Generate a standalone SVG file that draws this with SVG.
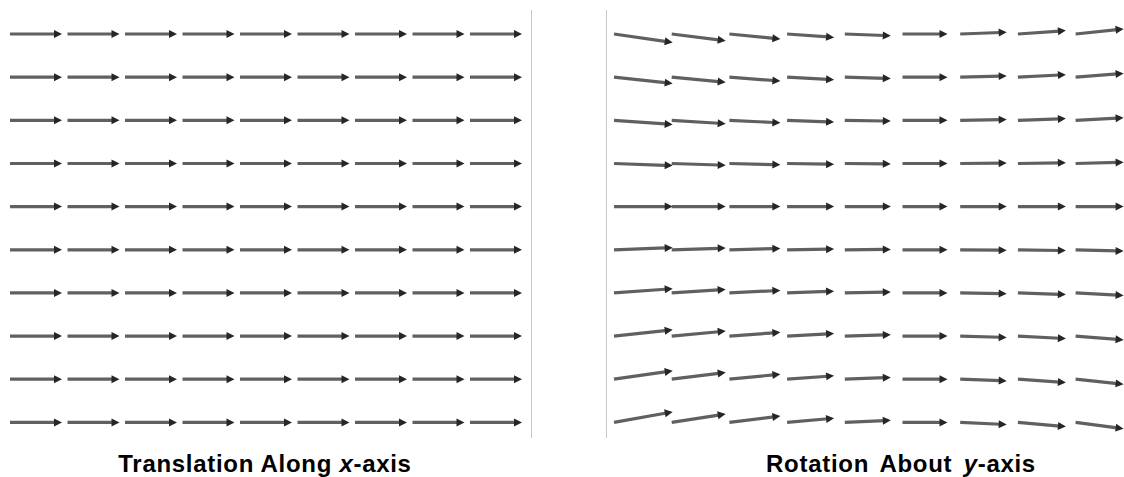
<svg xmlns="http://www.w3.org/2000/svg" xmlns:xlink="http://www.w3.org/1999/xlink" width="1124" height="477" viewBox="0 0 1124 477">
<style>
.a{fill:none;stroke:#606060;stroke-width:3.2;stroke-dasharray:87 100;marker-end:url(#m)}
.d{stroke:#c8c8c8;stroke-width:1}
.t{font-family:"Liberation Sans",Arial,sans-serif;font-weight:bold;font-size:24px;letter-spacing:0.7px;fill:#000;text-anchor:middle}
</style>
<defs>
<marker id="m" markerUnits="userSpaceOnUse" markerWidth="10" markerHeight="10" refX="8" refY="4" orient="auto" overflow="visible">
<path d="M0 0L8 4L0 8z" fill="#262626"/>
</marker>
<path id="h" class="a" d="M0 0h52" pathLength="100"/>
<g id="row">
<use xlink:href="#h" x="10"/><use xlink:href="#h" x="67.5"/><use xlink:href="#h" x="125"/><use xlink:href="#h" x="182.5"/><use xlink:href="#h" x="240"/><use xlink:href="#h" x="297.5"/><use xlink:href="#h" x="355"/><use xlink:href="#h" x="412.5"/><use xlink:href="#h" x="470"/>
</g>
</defs>
<rect width="1124" height="477" fill="#fff"/>
<g id="dividers">
<line class="d" x1="531.5" y1="10" x2="531.5" y2="438"/>
<line class="d" x1="606.5" y1="10" x2="606.5" y2="438"/>
</g>
<g id="left-panel">
<use xlink:href="#row" y="34"/>
<use xlink:href="#row" y="77.2"/>
<use xlink:href="#row" y="120.3"/>
<use xlink:href="#row" y="163.5"/>
<use xlink:href="#row" y="206.6"/>
<use xlink:href="#row" y="249.8"/>
<use xlink:href="#row" y="292.9"/>
<use xlink:href="#row" y="336.1"/>
<use xlink:href="#row" y="379.2"/>
<use xlink:href="#row" y="422.4"/>
</g>
<g id="right-panel">
<path class="a" pathLength="100" d="M614 34l58.7 8.4"/><path class="a" pathLength="100" d="M671.7 34l54 6.7"/><path class="a" pathLength="100" d="M729.4 34l51 5"/><path class="a" pathLength="100" d="M787.1 34l47 3.4"/><path class="a" pathLength="100" d="M844.8 34l46 1.7"/><path class="a" pathLength="100" d="M902.5 34l45 0"/><path class="a" pathLength="100" d="M960.2 34l46.5 -1.7"/><path class="a" pathLength="100" d="M1017.9 34l48 -3.4"/><path class="a" pathLength="100" d="M1075.6 34l48 -5"/>
<path class="a" pathLength="100" d="M614 77.2l58.7 6.3"/><path class="a" pathLength="100" d="M671.7 77.2l54 5"/><path class="a" pathLength="100" d="M729.4 77.2l51 3.8"/><path class="a" pathLength="100" d="M787.1 77.2l47 2.5"/><path class="a" pathLength="100" d="M844.8 77.2l46 1.3"/><path class="a" pathLength="100" d="M902.5 77.2l45 0"/><path class="a" pathLength="100" d="M960.2 77.2l46.5 -1.3"/><path class="a" pathLength="100" d="M1017.9 77.2l48 -2.5"/><path class="a" pathLength="100" d="M1075.6 77.2l48 -3.8"/>
<path class="a" pathLength="100" d="M614 120.3l58.7 4.2"/><path class="a" pathLength="100" d="M671.7 120.3l54 3.4"/><path class="a" pathLength="100" d="M729.4 120.3l51 2.5"/><path class="a" pathLength="100" d="M787.1 120.3l47 1.7"/><path class="a" pathLength="100" d="M844.8 120.3l46 0.8"/><path class="a" pathLength="100" d="M902.5 120.3l45 0"/><path class="a" pathLength="100" d="M960.2 120.3l46.5 -0.8"/><path class="a" pathLength="100" d="M1017.9 120.3l48 -1.7"/><path class="a" pathLength="100" d="M1075.6 120.3l48 -2.5"/>
<path class="a" pathLength="100" d="M614 163.5l58.7 2.1"/><path class="a" pathLength="100" d="M671.7 163.5l54 1.7"/><path class="a" pathLength="100" d="M729.4 163.5l51 1.3"/><path class="a" pathLength="100" d="M787.1 163.5l47 0.8"/><path class="a" pathLength="100" d="M844.8 163.5l46 0.4"/><path class="a" pathLength="100" d="M902.5 163.5l45 0"/><path class="a" pathLength="100" d="M960.2 163.5l46.5 -0.4"/><path class="a" pathLength="100" d="M1017.9 163.5l48 -0.8"/><path class="a" pathLength="100" d="M1075.6 163.5l48 -1.3"/>
<path class="a" pathLength="100" d="M614 206.6l58.7 0"/><path class="a" pathLength="100" d="M671.7 206.6l54 0"/><path class="a" pathLength="100" d="M729.4 206.6l51 0"/><path class="a" pathLength="100" d="M787.1 206.6l47 0"/><path class="a" pathLength="100" d="M844.8 206.6l46 0"/><path class="a" pathLength="100" d="M902.5 206.6l45 0"/><path class="a" pathLength="100" d="M960.2 206.6l46.5 0"/><path class="a" pathLength="100" d="M1017.9 206.6l48 0"/><path class="a" pathLength="100" d="M1075.6 206.6l48 0"/>
<path class="a" pathLength="100" d="M614 249.8l58.7 -2.1"/><path class="a" pathLength="100" d="M671.7 249.8l54 -1.7"/><path class="a" pathLength="100" d="M729.4 249.8l51 -1.3"/><path class="a" pathLength="100" d="M787.1 249.8l47 -0.8"/><path class="a" pathLength="100" d="M844.8 249.8l46 -0.4"/><path class="a" pathLength="100" d="M902.5 249.8l45 0"/><path class="a" pathLength="100" d="M960.2 249.8l46.5 0.4"/><path class="a" pathLength="100" d="M1017.9 249.8l48 0.8"/><path class="a" pathLength="100" d="M1075.6 249.8l48 1.3"/>
<path class="a" pathLength="100" d="M614 292.9l58.7 -4.2"/><path class="a" pathLength="100" d="M671.7 292.9l54 -3.4"/><path class="a" pathLength="100" d="M729.4 292.9l51 -2.5"/><path class="a" pathLength="100" d="M787.1 292.9l47 -1.7"/><path class="a" pathLength="100" d="M844.8 292.9l46 -0.8"/><path class="a" pathLength="100" d="M902.5 292.9l45 0"/><path class="a" pathLength="100" d="M960.2 292.9l46.5 0.8"/><path class="a" pathLength="100" d="M1017.9 292.9l48 1.7"/><path class="a" pathLength="100" d="M1075.6 292.9l48 2.5"/>
<path class="a" pathLength="100" d="M614 336.1l58.7 -6.3"/><path class="a" pathLength="100" d="M671.7 336.1l54 -5"/><path class="a" pathLength="100" d="M729.4 336.1l51 -3.8"/><path class="a" pathLength="100" d="M787.1 336.1l47 -2.5"/><path class="a" pathLength="100" d="M844.8 336.1l46 -1.3"/><path class="a" pathLength="100" d="M902.5 336.1l45 0"/><path class="a" pathLength="100" d="M960.2 336.1l46.5 1.3"/><path class="a" pathLength="100" d="M1017.9 336.1l48 2.5"/><path class="a" pathLength="100" d="M1075.6 336.1l48 3.8"/>
<path class="a" pathLength="100" d="M614 379.2l58.7 -8.4"/><path class="a" pathLength="100" d="M671.7 379.2l54 -6.7"/><path class="a" pathLength="100" d="M729.4 379.2l51 -5"/><path class="a" pathLength="100" d="M787.1 379.2l47 -3.4"/><path class="a" pathLength="100" d="M844.8 379.2l46 -1.7"/><path class="a" pathLength="100" d="M902.5 379.2l45 0"/><path class="a" pathLength="100" d="M960.2 379.2l46.5 1.7"/><path class="a" pathLength="100" d="M1017.9 379.2l48 3.4"/><path class="a" pathLength="100" d="M1075.6 379.2l48 5"/>
<path class="a" pathLength="100" d="M614 422.4l58.7 -10.5"/><path class="a" pathLength="100" d="M671.7 422.4l54 -8.4"/><path class="a" pathLength="100" d="M729.4 422.4l51 -6.3"/><path class="a" pathLength="100" d="M787.1 422.4l47 -4.2"/><path class="a" pathLength="100" d="M844.8 422.4l46 -2.1"/><path class="a" pathLength="100" d="M902.5 422.4l45 0"/><path class="a" pathLength="100" d="M960.2 422.4l46.5 2.1"/><path class="a" pathLength="100" d="M1017.9 422.4l48 4.2"/><path class="a" pathLength="100" d="M1075.6 422.4l48 6.3"/>
</g>
<g id="labels">
<text class="t" x="265" y="471.5">Translation Along <tspan font-style="italic">x</tspan>-axis</text>
<text class="t" x="901" y="471.5" letter-spacing="1.3" word-spacing="4">Rotation About <tspan font-style="italic">y</tspan>-axis</text>
</g>
</svg>
